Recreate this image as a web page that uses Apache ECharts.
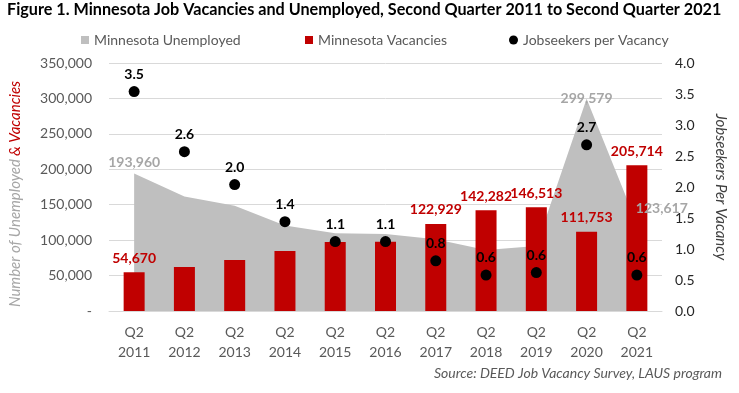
<!DOCTYPE html>
<html>
<head>
<meta charset="utf-8">
<script src="https://cdn.jsdelivr.net/npm/echarts@6/dist/echarts.min.js"></script>
<style>html,body{margin:0;padding:0;background:#fff;}#c{width:739px;height:393px;}</style>
</head>
<body>
<div id="c"></div>
<script>
const years = ['2011','2012','2013','2014','2015','2016','2017','2018','2019','2020','2021'];
const categories = years.map(y => 'Q2\n' + y);
const unemployed = [193960, 161500, 148400, 120500, 109800, 108800, 101300, 86200, 91800, 299579, 123617];
const vacancies = [54670, 62200, 72000, 84800, 97500, 97800, 122929, 142282, 146513, 111753, 205714];
const ratio = [3.54, 2.57, 2.04, 1.44, 1.12, 1.12, 0.81, 0.58, 0.62, 2.68, 0.58];
const unemployedLabelIdx = [0, 9, 10];
const vacancyLabelIdx = [0, 6, 7, 8, 9, 10];

const FONT = 'Lato';
const fmt = v => v.toLocaleString('en-US');

const unemployedLabelData = unemployed.map((v, i) => {
  if (!unemployedLabelIdx.includes(i)) return v;
  const item = { value: v, label: { show: true } };
  if (i === 9) item.label.offset = [0, 11];
  if (i === 10) { item.label.position = 'right'; item.label.offset = [-5, -15]; }
  return item;
});
const vacancyData = vacancies.map((v, i) => vacancyLabelIdx.includes(i) ? { value: v, label: { show: true } } : v);

const chart = echarts.init(document.getElementById('c'));
chart.setOption({
  animation: false,
  textStyle: { fontFamily: FONT },
  title: {
    text: 'Figure 1. Minnesota Job Vacancies and Unemployed, Second Quarter 2011 to Second Quarter 2021',
    left: 7, top: 2, padding: 0,
    textStyle: { fontFamily: FONT, fontSize: 16.2, fontWeight: 'bold', color: '#000' }
  },
  legend: [
    { data: [{ name: 'Minnesota Unemployed', icon: 'rect' }], left: 81, top: 33, padding: 0, itemWidth: 8, itemHeight: 8,
      textStyle: { fontFamily: FONT, fontSize: 14, color: '#595959' } },
    { data: [{ name: 'Minnesota Vacancies', icon: 'rect' }], left: 305, top: 33, padding: 0, itemWidth: 8, itemHeight: 8,
      textStyle: { fontFamily: FONT, fontSize: 14, color: '#595959' } },
    { data: [{ name: 'Jobseekers per Vacancy', icon: 'circle' }], left: 509, top: 33, padding: 0, itemWidth: 9, itemHeight: 9,
      textStyle: { fontFamily: FONT, fontSize: 14, color: '#595959' } }
  ],
  grid: { left: 105, right: 77, top: 63, bottom: 82 },
  xAxis: {
    type: 'category',
    data: categories,
    axisLine: { lineStyle: { color: '#D9D9D9' } },
    axisTick: { show: false },
    axisLabel: { fontFamily: FONT, fontSize: 14, color: '#595959', lineHeight: 20, margin: 11, interval: 0 }
  },
  yAxis: [
    {
      type: 'value', min: 0, max: 350000, interval: 50000,
      name: '{a|Number of Unemployed} {b|& Vacancies}',
      nameLocation: 'middle', nameGap: 86, nameRotate: 90,
      nameTextStyle: {
        padding: [0, 14, 0, 0],
        rich: {
          a: { fontFamily: FONT, fontSize: 15, fontStyle: 'italic', color: '#A6A6A6' },
          b: { fontFamily: FONT, fontSize: 15, fontStyle: 'italic', color: '#C00000' }
        }
      },
      axisLine: { show: false }, axisTick: { show: false },
      splitLine: { lineStyle: { color: '#D9D9D9' } },
      axisLabel: { fontFamily: FONT, fontSize: 14, color: '#595959', margin: 17,
        formatter: v => v === 0 ? '-' : fmt(v) }
    },
    {
      type: 'value', min: 0, max: 4, interval: 0.5,
      name: 'Jobseekers Per Vacancy',
      nameLocation: 'middle', nameGap: 51, nameRotate: -90,
      nameTextStyle: { fontFamily: FONT, fontSize: 15, fontStyle: 'italic', color: '#404040' },
      axisLine: { show: false }, axisTick: { show: false },
      splitLine: { show: false },
      axisLabel: { fontFamily: FONT, fontSize: 14, color: '#262626', margin: 13,
        formatter: v => v.toFixed(1) }
    }
  ],
  series: [
    {
      name: 'Minnesota Unemployed', type: 'line', data: unemployed, z: 1,
      symbol: 'none',
      lineStyle: { width: 0 },
      itemStyle: { color: '#BFBFBF' },
      areaStyle: { color: '#BFBFBF', opacity: 1 },
      silent: true
    },
    {
      name: 'Minnesota Vacancies', type: 'bar', data: vacancyData, z: 2,
      barWidth: 21,
      itemStyle: { color: '#C00000' },
      label: { show: false, position: 'top', distance: 7, fontFamily: FONT, fontSize: 14, fontWeight: 'bold', color: '#C00000',
        formatter: p => fmt(p.value) }
    },
    {
      name: 'Unemployed labels', type: 'line', data: unemployedLabelData, z: 4,
      symbol: 'circle', symbolSize: 0, showSymbol: true,
      lineStyle: { width: 0, opacity: 0 },
      itemStyle: { color: '#BFBFBF' },
      label: { show: false, position: 'top', distance: 4, fontFamily: FONT, fontSize: 14, fontWeight: 'bold', color: '#A6A6A6',
        formatter: p => fmt(p.value) },
      silent: true
    },
    {
      name: 'Jobseekers per Vacancy', type: 'scatter', yAxisIndex: 1, data: ratio, z: 3,
      symbol: 'circle', symbolSize: 11,
      itemStyle: { color: '#000', opacity: 1 },
      label: { show: true, position: 'top', distance: 5, fontFamily: FONT, fontSize: 14, fontWeight: 'bold', color: '#000',
        formatter: p => p.value.toFixed(1) }
    }
  ],
  graphic: [
    { type: 'text', right: 17, top: 366,
      style: { text: 'Source: DEED Job Vacancy Survey, LAUS program', font: 'italic 14px ' + FONT, fill: '#595959' } }
  ]
});
</script>
</body>
</html>
